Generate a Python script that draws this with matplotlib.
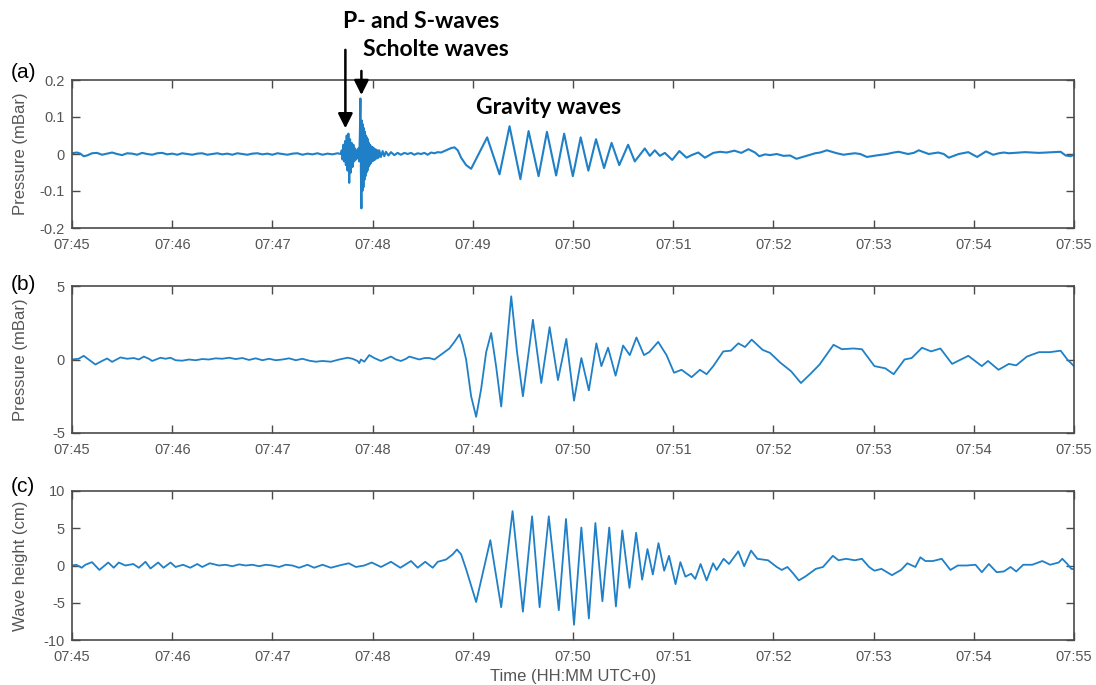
import matplotlib.pyplot as plt

plt.rcParams['font.family'] = ['Liberation Sans', 'DejaVu Sans']

# time axis: seconds after 07:45:00
tick_labels = ['07:45', '07:46', '07:47', '07:48', '07:49', '07:50',
               '07:51', '07:52', '07:53', '07:54', '07:55']

# (a) pressure, mBar
t_a = [0, 3, 5, 7, 9, 12, 15, 18, 21, 24, 27, 30, 33, 36, 39, 42, 45, 48, 51, 54,
       57, 60, 63, 66, 69, 72, 75, 78, 81, 84, 87, 90, 93, 96, 99, 102, 105, 108,
       111, 114, 117, 120, 123, 126, 129, 132, 135, 138, 141, 144, 147, 150, 153,
       156, 159, 161,
       161.5, 162, 162.5, 163, 163.5, 164, 164.5, 165, 165.5, 166, 166.5, 167,
       167.5, 168, 168.5, 169, 169.5, 170, 170.5, 171, 171.5, 172,
       172.4, 172.7, 173.0, 173.3, 173.6, 173.9, 174.2, 174.5, 174.8, 175.1, 175.4,
       175.7, 176, 176.3, 176.6, 176.9, 177.2, 177.5, 177.8, 178.1, 178.5, 178.9,
       179.3, 179.7, 180.1, 180.5, 181, 181.5, 182, 182.5, 183, 183.5, 184, 185,
       186, 187, 188, 189.5, 191, 193, 195, 197, 199, 201, 203, 205, 207, 209, 211,
       213, 215, 217, 219, 221, 223, 225, 227, 229, 231, 233, 236, 239,
       248.6, 256, 262, 268.5, 273.4, 279.4, 284.4, 289.9, 294.7, 299.9, 304.6,
       309.2, 313.8, 318.6, 323.1, 327.7, 333, 337, 343, 346, 349, 352, 355,
       359.4, 363.7, 368, 371, 375, 379, 384, 388, 392, 396.6, 400.8, 405, 409,
       411.5, 415, 418, 422, 426, 430, 433.8, 439, 445, 448, 452, 458, 462, 465,
       468.8, 472, 476, 481.5, 485, 488, 492, 495, 500.6, 504, 507, 513, 518.7,
       522, 525, 531, 536.7, 542, 547.3, 551.6, 555, 558, 561, 564, 567, 570.7,
       575, 579, 583, 587.7, 592, 595, 598, 600]
p_a = [0.002, 0.004, 0.001, -0.006, -0.004, 0.002, 0.003, -0.002, 0.001, 0.004,
       0.0, -0.003, 0.002, 0.001, -0.002, 0.003, 0.0, -0.002, 0.002, 0.003,
       -0.001, 0.001, -0.002, 0.002, 0.0, -0.002, 0.001, 0.002, -0.002, 0.0,
       0.002, -0.001, 0.001, -0.002, 0.002, 0.0, -0.002, 0.001, 0.002, -0.001,
       0.001, -0.002, 0.002, 0.0, -0.002, 0.001, 0.002, -0.002, 0.001, -0.001,
       0.002, -0.002, 0.001, -0.001, 0.002, 0.0,
       0.01, -0.015, 0.025, -0.02, 0.035, -0.03, 0.05, -0.045, 0.055, -0.078,
       0.04, -0.05, 0.03, -0.035, 0.025, -0.02, 0.015, -0.015, 0.01, -0.012,
       0.015, -0.02,
       0.06, 0.15, -0.05, -0.147, 0.09, -0.1, 0.08, -0.09, 0.07, -0.07, 0.06,
       -0.06, 0.05, -0.05, 0.045, -0.045, 0.04, -0.035, 0.03, -0.03, 0.025,
       -0.025, 0.02, -0.02, 0.018, -0.018, 0.015, -0.015, 0.012, -0.012, 0.01,
       -0.01, 0.01, -0.008, 0.008, -0.006, 0.006, -0.004, 0.005, -0.003, 0.003,
       -0.002, 0.003, 0.0, 0.003, -0.002, 0.002, 0.0, 0.003, -0.002, 0.004,
       0.002, 0.005, 0.004, 0.008, 0.012, 0.016, 0.018, 0.01, -0.01, -0.03, -0.04,
       0.045, -0.055, 0.075, -0.068, 0.062, -0.06, 0.06, -0.058, 0.055, -0.06,
       0.045, -0.045, 0.04, -0.038, 0.03, -0.03, 0.025, -0.02, 0.015, -0.005,
       0.01, -0.005, 0.003,
       -0.016, 0.008, -0.01, -0.003, 0.004, -0.01, 0.003, 0.006, 0.004, 0.009,
       0.003, 0.013, 0.004, -0.006, -0.001, -0.003, 0.0, -0.005, -0.004, -0.013,
       -0.006, 0.002, 0.004, 0.01, 0.002, -0.002, 0.0, 0.002, 0.0, -0.008, -0.004,
       -0.002, 0.0, 0.004, 0.006, 0.0, 0.003, 0.01, 0.0, 0.004, 0.0, -0.01, 0.0,
       0.005, -0.008, 0.007, -0.002, 0.002, 0.004, 0.002, 0.003, 0.004, 0.005,
       0.004, 0.003, 0.004, 0.005, 0.006, -0.004, -0.006, -0.002]

# (b) pressure, mBar
t_b = [0, 4, 7, 10, 14, 18, 21, 24, 29, 33, 37, 40, 43, 46, 48, 53, 56, 59, 62,
       66, 70, 74, 78, 82, 86, 90, 94, 98, 102, 106, 110, 114, 118, 122, 126, 130,
       134, 138, 142, 146, 150, 155, 160, 165, 168, 171, 172, 173, 175, 178, 181,
       185, 188, 191, 194, 197, 200, 202, 205, 208, 211, 214, 217, 220, 223, 226,
       229, 232, 234, 236, 239, 242, 245, 248, 251, 254, 257, 260, 263, 266.5,
       270, 276, 281, 286, 291, 296, 300.6, 305, 309.5, 314, 317, 321, 325.5,
       330, 334, 338, 342.5, 345.6, 351, 356, 360.5, 365, 371, 376, 380, 384,
       390, 394.5, 399, 403, 407, 413.6, 418, 424, 430.6, 436.5, 442, 447.6,
       456, 461, 468, 473, 480.5, 487, 492, 498.5, 502.8, 509, 514.4, 520, 527,
       536.7, 544.8, 548.5, 554.8, 561, 565.4, 571.8, 579, 585.6, 592, 596, 600]
p_b = [0.0, 0.05, 0.25, 0.0, -0.34, -0.1, 0.07, -0.16, 0.14, 0.05, 0.1, 0.0, 0.2,
       0.05, -0.1, 0.12, 0.05, 0.12, -0.05, -0.08, 0.0, -0.05, 0.03, 0.0, 0.08,
       0.05, 0.12, 0.03, 0.1, -0.03, 0.08, -0.05, 0.05, -0.05, 0.0, 0.08, -0.05,
       0.05, -0.08, -0.15, -0.1, -0.15, 0.0, 0.12, 0.05, -0.1, -0.25, 0.0, -0.15,
       0.3, 0.1, -0.1, 0.05, 0.2, 0.0, -0.1, 0.05, 0.2, 0.1, 0.0, 0.1, 0.1, 0.0,
       0.25, 0.5, 0.75, 1.2, 1.7, 1.0, 0.0, -2.5, -3.9, -2.0, 0.5, 1.8, -0.5,
       -3.2, 0.5, 4.3, 0.5, -2.5, 2.7, -1.6, 2.2, -1.4, 1.4, -2.8, 0.1, -2.1,
       1.1, -0.45, 0.8, -1.1, 0.95, 0.3, 1.5, 0.3, 0.5, 1.2, 0.3, -0.9, -0.7,
       -1.2, -0.7, -1.0, -0.45, 0.55, 0.6, 1.1, 0.85, 1.35, 0.65, 0.45, -0.2,
       -0.8, -1.6, -1.0, -0.35, 1.0, 0.7, 0.75, 0.7, -0.45, -0.6, -1.0, 0.0, 0.1,
       0.8, 0.55, 0.75, -0.3, 0.25, -0.45, -0.1, -0.7, -0.3, -0.4, 0.2, 0.5, 0.5,
       0.6, 0.0, -0.45]

# (c) wave height, cm
t_c = [0, 2.6, 5.8, 8, 12, 16.4, 21.7, 25, 28, 32, 36.7, 40, 44, 47, 51.6, 54.8,
       59, 62, 66.5, 70.8, 75, 78, 82.5, 88, 92, 96, 100, 104, 108, 112, 116, 120,
       124, 128, 132, 136, 141, 145, 150, 155, 160, 165.7, 170, 175, 179.5, 185,
       191, 196.6, 203, 207, 211.5, 216, 219, 224, 228, 230.5, 233, 236, 242,
       250.5, 257, 263.8, 270, 275.5, 280, 285.5, 291.5, 295.8, 300.6, 305,
       309.5, 313.4, 317.6, 321.7, 325.7, 329.5, 333.8, 337.8, 341.4, 344.6,
       347.8, 351.2, 354.6, 357.5, 361.4, 364.3, 367.3, 370.7, 373.2, 376.4, 380,
       383.9, 386, 390.2, 393.4, 399, 402.5, 406.6, 410.4, 416.8, 422, 425,
       428.4, 431.6, 435.2, 439, 445.4, 449.7, 455.6, 459, 463.5, 468.8, 473,
       477.3, 480.5, 484.7, 491, 496.4, 500.2, 505, 508, 511, 515.5, 520.8, 526,
       530.4, 535.7, 541, 544.8, 549, 553.7, 558, 562, 565.4, 569.6, 575, 581,
       585.7, 590.8, 593, 596, 598.4, 600]
h_c = [0.0, 0.1, -0.3, 0.1, 0.45, -0.6, 0.4, -0.3, 0.4, 0.0, 0.2, -0.3, 0.5, -0.4,
       0.4, -0.3, 0.4, -0.2, 0.1, -0.3, 0.2, -0.2, 0.3, 0.0, 0.1, -0.1, 0.15, 0.0,
       0.1, -0.1, 0.1, 0.0, -0.2, 0.1, 0.0, -0.3, 0.1, -0.3, 0.1, -0.3, 0.0, 0.3,
       -0.2, 0.0, 0.4, -0.2, 0.5, -0.3, 0.6, -0.3, 0.5, -0.3, 0.5, 0.8, 1.5, 2.15,
       1.5, -0.5, -4.9, 3.4, -5.6, 7.3, -6.2, 6.6, -5.6, 6.6, -6.0, 6.25, -7.95,
       5.1, -7.1, 5.7, -4.8, 5.1, -5.5, 4.7, -3.0, 4.4, -1.9, 2.2, -1.2, 3.0,
       -0.7, 1.3, -2.5, 0.45, -1.5, -1.1, -1.8, 0.2, -2.0, 0.3, -0.6, 0.9, 0.2,
       1.9, -0.1, 2.0, 0.9, 0.7, -0.2, -0.6, -0.2, -1.0, -2.0, -1.5, -0.45, -0.2,
       1.3, 0.7, 0.9, 0.7, 0.9, -0.2, -0.7, -0.45, -1.3, -0.6, 0.3, -0.2, 1.1,
       0.6, 0.6, 0.9, -0.6, 0.0, 0.0, 0.1, -0.9, 0.2, -0.9, -0.8, -0.2, -0.8, 0.1,
       0.1, 0.6, 0.1, 0.4, 0.9, 0.2, -0.45, -0.5]

line_color = '#1f80c8'
axis_color = '#4a4a4a'
text_color = '#555555'

fig = plt.figure(figsize=(10.96, 6.85), dpi=100)
x0, w = 72 / 1096, (1074 - 72) / 1096
ax_a = fig.add_axes([x0, 1 - 228 / 685, w, 148 / 685])
ax_b = fig.add_axes([x0, 1 - 433 / 685, w, 147 / 685])
ax_c = fig.add_axes([x0, 1 - 640 / 685, w, 149 / 685])

panels = [
    (ax_a, t_a, p_a, 'Pressure (mBar)', [-0.2, -0.1, 0, 0.1, 0.2], ['-0.2', '-0.1', '0', '0.1', '0.2'], 1.5),
    (ax_b, t_b, p_b, 'Pressure (mBar)', [-5, 0, 5], ['-5', '0', '5'], 1.3),
    (ax_c, t_c, h_c, 'Wave height (cm)', [-10, -5, 0, 5, 10], ['-10', '-5', '0', '5', '10'], 1.3),
]
for ax, t, v, ylab, yt, ytl, lw in panels:
    ax.plot(t, v, color=line_color, lw=lw, solid_joinstyle='round')
    ax.set_xlim(0, 600)
    ax.set_ylim(yt[0], yt[-1])
    ax.set_xticks([60 * i for i in range(len(tick_labels))])
    ax.set_xticklabels(tick_labels)
    ax.set_yticks(yt)
    ax.set_yticklabels(ytl)
    ax.tick_params(direction='in', length=6, width=1, top=True, right=True,
                   colors=axis_color, labelcolor=text_color, labelsize=10.5)
    ax.tick_params(axis='x', pad=7)
    ax.tick_params(axis='y', pad=5)
    for s in ax.spines.values():
        s.set_color(axis_color)
        s.set_linewidth(1.2)
    ax.set_ylabel(ylab, fontsize=12, color=text_color)

ax_c.set_xlabel('Time (HH:MM UTC+0)', fontsize=12, color=text_color, labelpad=4)
for ax in (ax_a, ax_b, ax_c):
    ax.yaxis.set_label_coords(-0.044, 0.5)

for lab, ypx in [('(a)', 73), ('(b)', 284), ('(c)', 487)]:
    fig.text(23 / 1096, 1 - ypx / 685, lab, fontsize=15, ha='center', va='center')

# event annotations
bold = dict(fontsize=16.5, fontweight='bold', family='Lato', ha='left', va='center')
fig.text(343 / 1096, 1 - 22 / 685, 'P- and S-waves', **bold)
fig.text(363 / 1096, 1 - 50 / 685, 'Scholte waves', **bold)
fig.text(476 / 1096, 1 - 108 / 685, 'Gravity waves', **bold)
ax_a.annotate('', xy=(163.7, 0.062), xytext=(163.7, 0.289), annotation_clip=False,
              arrowprops=dict(arrowstyle='-|>', color='k', lw=1.8, mutation_scale=22))
ax_a.annotate('', xy=(173.3, 0.152), xytext=(173.3, 0.232), annotation_clip=False,
              arrowprops=dict(arrowstyle='-|>', color='k', lw=1.8, mutation_scale=22))

fig.savefig('out.png', dpi=100)
